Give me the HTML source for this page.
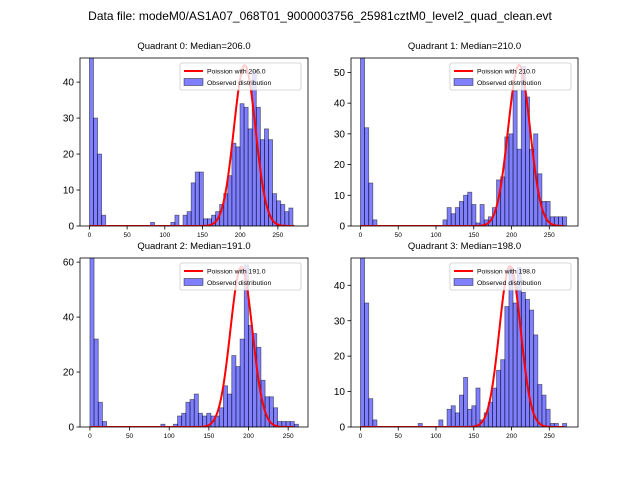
<!DOCTYPE html>
<html><head><meta charset="utf-8"><style>
html,body{margin:0;padding:0;background:#fff;}
svg{display:block;font-family:"Liberation Sans","DejaVu Sans",sans-serif;}
</style></head><body>
<svg id="chart" width="640" height="480" viewBox="0 0 640 480">
<text x="320" y="20" text-anchor="middle" font-size="12">Data file: modeM0/AS1A07_068T01_9000003756_25981cztM0_level2_quad_clean.evt</text>
</svg>
<script>
const titles = ["Quadrant 0: Median=206.0","Quadrant 1: Median=210.0","Quadrant 2: Median=191.0","Quadrant 3: Median=198.0"];
const lambdas = [206,210,191,198];
const peaks = [44.7,52.4,58.3,45.4];
const binWidths = [5.4,5.46,5.26,5.46];
const counts0 = [50,30,20,3,0,0,0,0,0,0,0,0,0,0,0,1,0,0,0,0,1,3,0,3,4,12,15,15,2,2,3,4,6,9,14,23,22,34,33,27,43,33,24,27,24,9,7,6,4,5];
const counts1 = [56,32,14,2,0,0,0,0,0,0,0,0,0,0,0,0,0,0,0,0,2,6,4,6,8,10,11,7,1,7,2,3,6,15,16,29,30,44,25,52,42,25,30,17,8,8,3,3,3,3];
const counts2 = [63,32,9,2,0,0,0,0,0,0,0,0,0,0,0,0,0,1,0,0,1,4,5,9,10,12,5,4,5,4,4,7,15,12,26,22,32,59,37,34,29,17,11,11,7,2,2,2,2,1];
const counts3 = [48,35,8,2,0,0,0,0,0,0,0,0,0,0,1,0,0,0,0,2,0,5,6,4,9,14,5,6,11,2,4,7,11,16,19,34,45,35,45,38,36,33,26,12,9,5,1,1,0,1];
const allCounts = [counts0,counts1,counts2,counts3];
const yTicks = [[0,10,20,30,40],[0,10,20,30,40,50],[0,20,40,60],[0,10,20,30,40]];
const xTicks = [0,50,100,150,200,250];
const yMax = [46.7,54.7,61.5,47.7];
const xMinV = [-12.5,-12.5,-12.5,-12.5];
const xMaxV = [290,288,275,288];
const boxes = [{l:80,r:308,t:58,b:226},{l:351,r:578,t:58,b:226},{l:80,r:308,t:258,b:427},{l:351,r:578,t:258,b:427}];
const NS="http://www.w3.org/2000/svg";
const svg=document.getElementById('chart');
function mk(tag,attrs,parent){const e=document.createElementNS(NS,tag);for(const k in attrs)e.setAttribute(k,attrs[k]);(parent||svg).appendChild(e);return e;}
boxes.forEach((bx,q)=>{
  const g=mk('g',{});
  
  
  const sx=v=>bx.l+(v-xMinV[q])/(xMaxV[q]-xMinV[q])*(bx.r-bx.l);
  const sy=v=>bx.b-v/yMax[q]*(bx.b-bx.t);
  const cid='clip'+q;
  const cp=mk('clipPath',{id:cid},g);mk('rect',{x:bx.l,y:bx.t,width:bx.r-bx.l,height:bx.b-bx.t},cp);
  const plot=mk('g',{'clip-path':'url(#'+cid+')'},g);
  const c=allCounts[q],w=binWidths[q];
  c.forEach((v,i)=>{if(v<=0)return;
    const r=mk('rect',{x:sx(i*w),y:sy(v),width:sx((i+1)*w)-sx(i*w),height:sy(0)-sy(v),fill:'rgba(0,0,255,0.5)',stroke:'rgba(0,0,0,0.5)','stroke-width':0.8},plot);
    
    
  });
  let d='';const lam=lambdas[q],sg=Math.sqrt(lam);
  for(let x=0;x<=xMaxV[q]-18;x+=1){const y=peaks[q]*Math.exp(-0.5*((x-lam)/sg)**2);d+=(x?'L':'M')+sx(x).toFixed(2)+','+sy(y).toFixed(2);}
  const cur=mk('path',{d:d,fill:'none',stroke:'#ff0000','stroke-width':2},plot);
  
  
  mk('rect',{x:bx.l,y:bx.t,width:bx.r-bx.l,height:bx.b-bx.t,fill:'none',stroke:'#000','stroke-width':0.8},g);
  xTicks.forEach(t=>{const x=sx(t);mk('line',{x1:x,x2:x,y1:bx.b,y2:bx.b+3.5,stroke:'#000','stroke-width':0.8},g);
    const tx=mk('text',{x:x,y:bx.b+11,'text-anchor':'middle','font-size':6.5},g);tx.textContent=t;
    
    });
  yTicks[q].forEach(t=>{const y=sy(t);mk('line',{x1:bx.l-3.5,x2:bx.l,y1:y,y2:y,stroke:'#000','stroke-width':0.8},g);
    const tx=mk('text',{x:bx.l-6,y:y+3.6,'text-anchor':'end','font-size':10},g);tx.textContent=t;
    
    });
  const ti=mk('text',{x:(bx.l+bx.r)/2,y:bx.t-9,'text-anchor':'middle','font-size':9.5},g);ti.textContent=titles[q];
  
  
  const lg=mk('g',{},g);
  
  
  const lx=bx.r-128,ly=bx.t+5;
  mk('rect',{x:lx,y:ly,width:121,height:27,rx:2,fill:'rgba(255,255,255,0.8)',stroke:'#ccc','stroke-width':0.8},lg);
  mk('line',{x1:lx+4,x2:lx+23,y1:ly+8,y2:ly+8,stroke:'#ff0000','stroke-width':2},lg);
  const t1=mk('text',{x:lx+27,y:ly+10.5,'font-size':6.8},lg);t1.textContent='Poission with '+lambdas[q].toFixed(1);
  mk('rect',{x:lx+4,y:ly+15.5,width:19,height:7,fill:'rgba(0,0,255,0.5)',stroke:'rgba(0,0,0,0.5)','stroke-width':0.8},lg);
  const t2=mk('text',{x:lx+27,y:ly+22,'font-size':6.8},lg);t2.textContent='Observed distribution';
});
</script>
</body></html>
